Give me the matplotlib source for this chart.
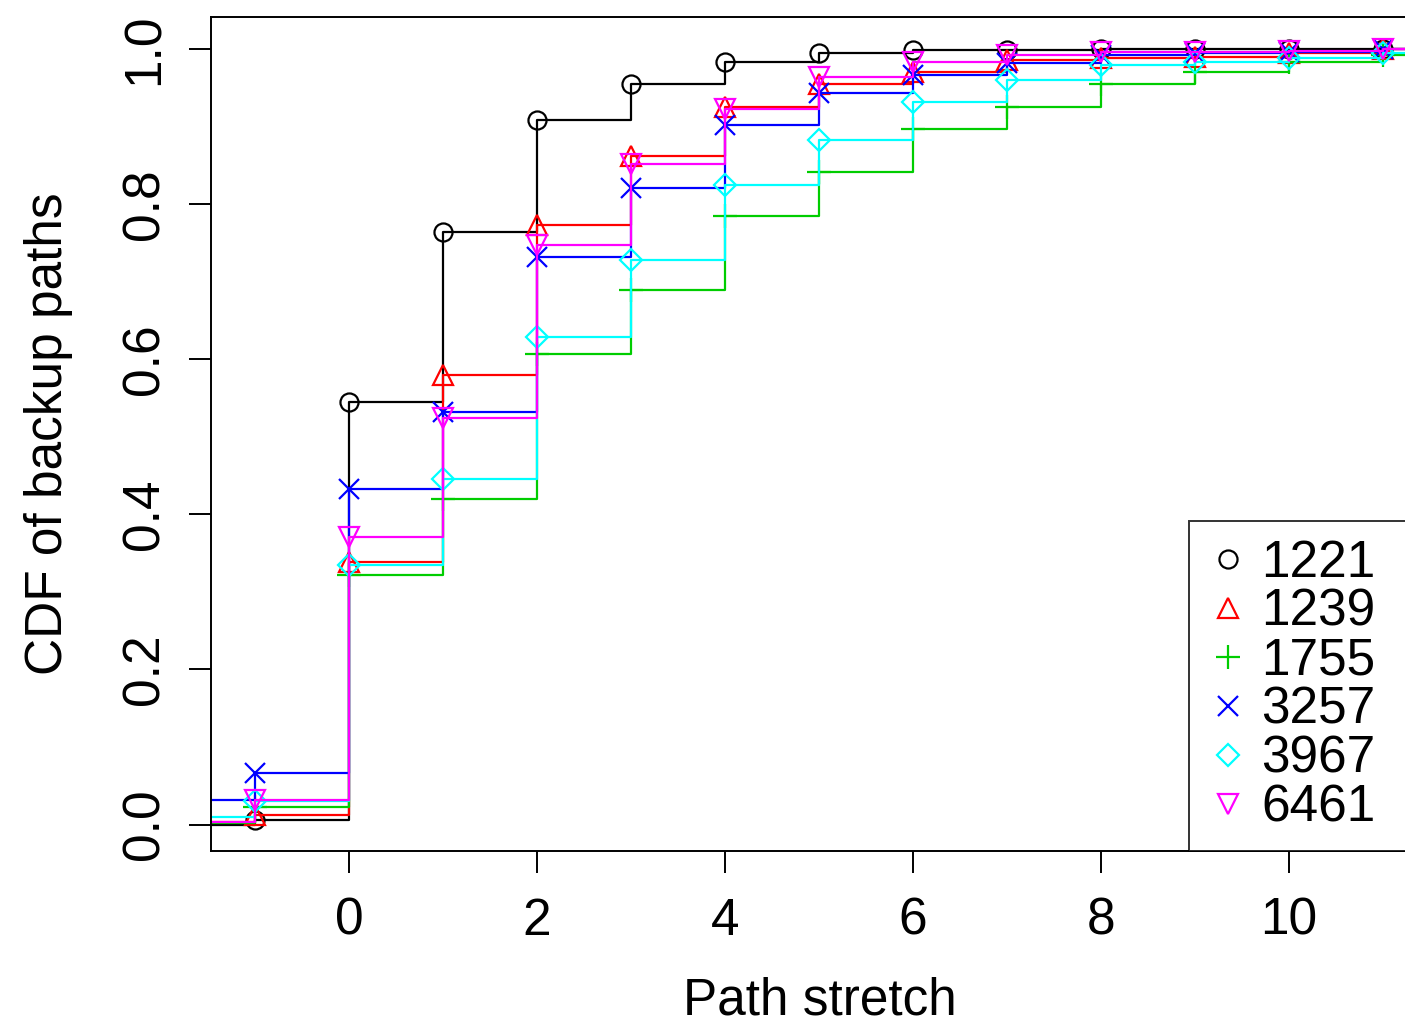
import matplotlib
matplotlib.use("Agg")
import matplotlib.pyplot as plt

plt.rcParams["font.family"] = ["Liberation Sans", "DejaVu Sans"]

# === Data ===
stretch = [-1, 0, 1, 2, 3, 4, 5, 6, 7, 8, 9, 10, 11]
series_names = ["1221", "1239", "1755", "3257", "3967", "6461"]
left_1221 = 0.0
left_1239 = 0.004
left_1755 = 0.002
left_3257 = 0.032
left_3967 = 0.010
left_6461 = 0.004
cdf_1221 = [0.006, 0.545, 0.764, 0.908, 0.954, 0.983, 0.994, 0.998, 0.999, 1.0, 1.0, 1.0, 1.0]
cdf_1239 = [0.013, 0.338, 0.580, 0.773, 0.862, 0.925, 0.954, 0.970, 0.986, 0.988, 0.990, 0.995, 1.0]
cdf_1755 = [0.023, 0.322, 0.420, 0.606, 0.689, 0.784, 0.841, 0.896, 0.925, 0.954, 0.970, 0.983, 0.992]
cdf_3257 = [0.067, 0.433, 0.532, 0.731, 0.821, 0.902, 0.943, 0.966, 0.982, 0.992, 0.994, 0.996, 1.0]
cdf_3967 = [0.030, 0.335, 0.446, 0.628, 0.728, 0.825, 0.883, 0.932, 0.960, 0.979, 0.983, 0.988, 0.995]
cdf_6461 = [0.032, 0.371, 0.524, 0.747, 0.851, 0.922, 0.964, 0.983, 0.992, 0.996, 0.996, 0.997, 1.0]

lefts = [left_1221, left_1239, left_1755, left_3257, left_3967, left_6461]
cdfs = [cdf_1221, cdf_1239, cdf_1755, cdf_3257, cdf_3967, cdf_6461]
colors = ["black", "#FF0000", "#00CD00", "#0000FF", "#00FFFF", "#FF00FF"]
markers = ["o", "^", "+", "x", "D", "v"]
msizes = [13, 15, 17, 14, 11.5, 15]

XMIN, XMAX = -1.47, 11.48
YMIN, YMAX = -0.034, 1.041

fig = plt.figure(figsize=(14.05, 10.29), dpi=100)
ax = fig.add_axes([0.1502, 0.1730, 0.8662, 0.8105])

handles = []
for name, left, cdf, c, m, ms in zip(series_names, lefts, cdfs, colors, markers, msizes):
    xs = [XMIN] + stretch + [XMAX]
    ys = [left] + cdf + [cdf[-1]]
    ax.step(xs, ys, where="post", color=c, lw=1.6)
    h, = ax.plot(stretch, cdf, linestyle="none", marker=m, ms=ms, mfc="none",
                 mec=c, mew=1.6, label=name)
    handles.append(h)

ax.set_xlim(XMIN, XMAX)
ax.set_ylim(YMIN, YMAX)
ax.set_xticks([0, 2, 4, 6, 8, 10])
ax.set_yticks([0.0, 0.2, 0.4, 0.6, 0.8, 1.0])
ax.set_yticklabels(["0.0", "0.2", "0.4", "0.6", "0.8", "1.0"], rotation=90, va="center")
ax.tick_params(axis="both", direction="out", length=16, width=1.4, labelsize=37, pad=14)
ax.tick_params(axis="x", pad=17)
for s in ax.spines.values():
    s.set_linewidth(1.4)

ax.set_xlabel("Path stretch", fontsize=37, labelpad=22)
ax.set_ylabel("CDF of backup paths", fontsize=37, labelpad=34)

x0 = (1189 - 211) / (1428 - 211)
leg = ax.legend(handles=handles, loc="lower left", bbox_to_anchor=(x0, 0, 1 - x0, 0.3),
                mode="expand", fontsize=37, frameon=True, fancybox=False,
                borderpad=0.35, handlelength=0.8, handletextpad=0.25,
                labelspacing=0.0, borderaxespad=0)
leg.get_frame().set_edgecolor("black")
leg.get_frame().set_linewidth(1.4)

fig.savefig("out.png", dpi=100)
